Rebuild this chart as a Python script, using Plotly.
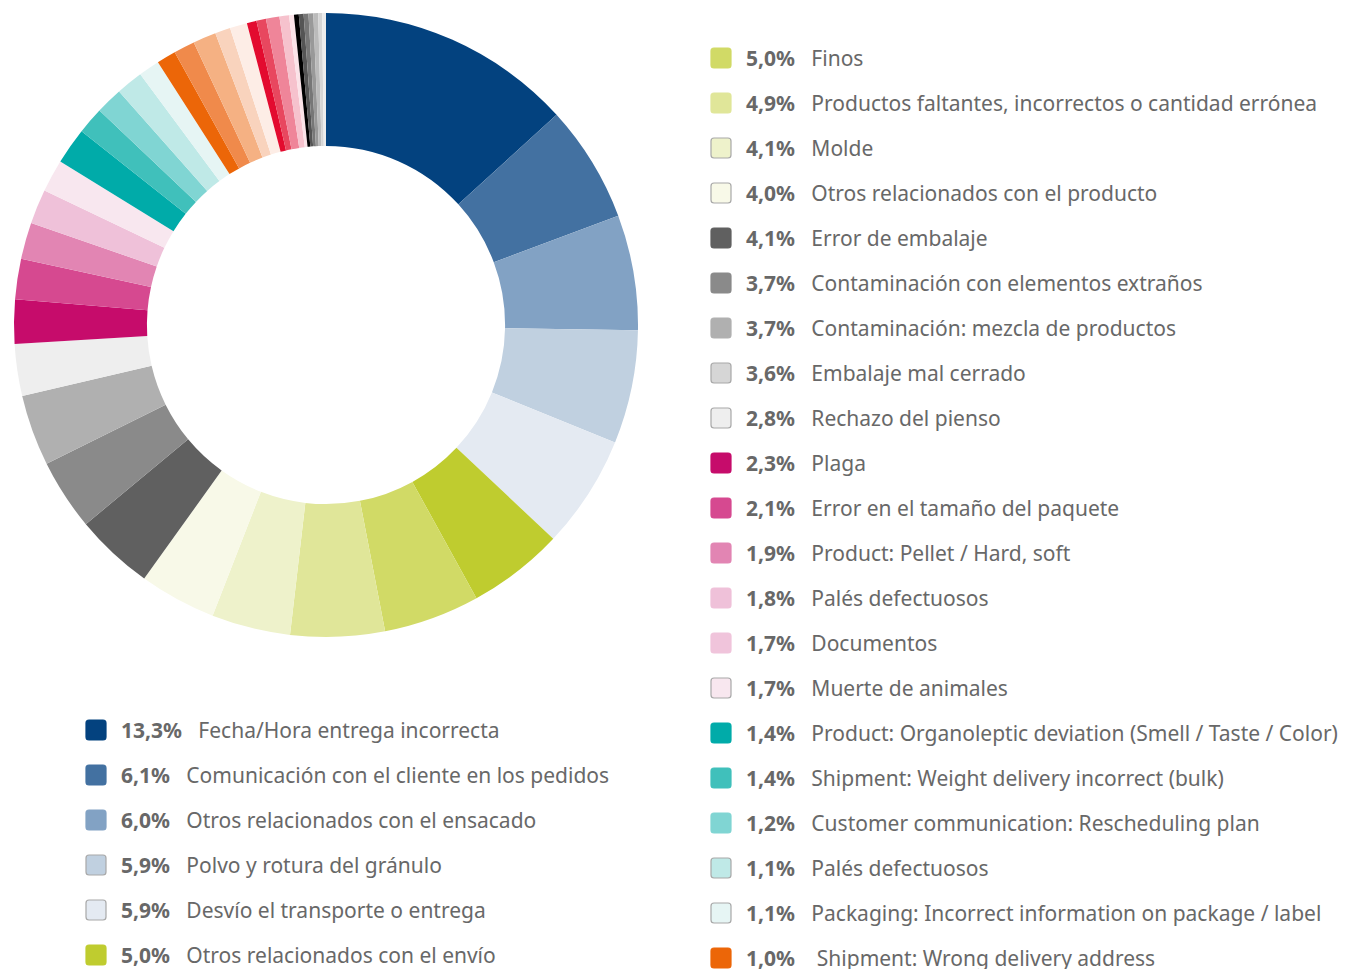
import plotly.graph_objects as go

W, H = 1346, 969

# ---- Legend data (as printed) ----
left_pcts = ["13,3%", "6,1%", "6,0%", "5,9%", "5,9%", "5,0%"]
left_labels = [
    "Fecha/Hora entrega incorrecta",
    "Comunicación con el cliente en los pedidos",
    "Otros relacionados con el ensacado",
    "Polvo y rotura del gránulo",
    "Desvío el transporte o entrega",
    "Otros relacionados con el envío",
]
left_colors = ["#03427F", "#4371A1", "#82A2C4", "#C0D0E0", "#E4EAF2", "#BFCC2F"]
left_edges = ["#03427F", "#4371A1", "#82A2C4", "#A8A8A8", "#A8A8A8", "#BFCC2F"]

right_pcts = ["5,0%", "4,9%", "4,1%", "4,0%", "4,1%", "3,7%", "3,7%", "3,6%", "2,8%",
              "2,3%", "2,1%", "1,9%", "1,8%", "1,7%", "1,7%", "1,4%", "1,4%", "1,2%",
              "1,1%", "1,1%", "1,0%"]
right_labels = [
    "Finos",
    "Productos faltantes, incorrectos o cantidad errónea",
    "Molde",
    "Otros relacionados con el producto",
    "Error de embalaje",
    "Contaminación con elementos extraños",
    "Contaminación: mezcla de productos",
    "Embalaje mal cerrado",
    "Rechazo del pienso",
    "Plaga",
    "Error en el tamaño del paquete",
    "Product: Pellet / Hard, soft",
    "Palés defectuosos",
    "Documentos",
    "Muerte de animales",
    "Product: Organoleptic deviation (Smell / Taste / Color)",
    "Shipment: Weight delivery incorrect (bulk)",
    "Customer communication: Rescheduling plan",
    "Palés defectuosos",
    "Packaging: Incorrect information on package / label",
    "&nbsp;Shipment: Wrong delivery address",
]
right_colors = ["#D1DA66", "#E0E699", "#EEF2CB", "#F8F9E8", "#606060", "#8A8A8A", "#B0B0B0",
                "#D6D6D6", "#EEEEEE", "#C60C6B", "#D64990", "#E285B3", "#EFC1D9", "#F0C4DB",
                "#F8E7EF", "#00ABA9", "#40C0BB", "#80D5D3", "#BFE9E7", "#E6F5F4", "#EC6608"]
right_edges = ["#D1DA66", "#E0E699", "#A8A8A8", "#A8A8A8", "#606060", "#8A8A8A", "#B0B0B0",
               "#A8A8A8", "#A8A8A8", "#C60C6B", "#D64990", "#E285B3", "#EFC1D9", "#F0C4DB",
               "#A8A8A8", "#00ABA9", "#40C0BB", "#80D5D3", "#A8A8A8", "#A8A8A8", "#EC6608"]

# ---- Donut slices (clockwise from 12 o'clock, values read from the ring) ----
donut_values = [13.3, 6.1, 6.0, 5.9, 5.9, 5.0, 5.0, 4.9, 4.1, 4.0,
                4.1, 3.7, 3.7, 2.7,
                2.3, 2.1, 1.9, 1.8, 1.7,
                1.9, 1.4, 1.4, 1.4, 1.1,
                1.0, 1.1, 1.2, 0.8, 0.9,
                0.5, 0.5, 0.7, 0.5, 0.25,
                0.25, 0.25, 0.25, 0.25, 0.25, 0.2, 0.2]
donut_colors = ["#03427F", "#4371A1", "#82A2C4", "#C0D0E0", "#E4EAF2", "#BFCC2F", "#D1DA66",
                "#E0E699", "#EEF2CB", "#F8F9E8",
                "#606060", "#8A8A8A", "#B0B0B0", "#EEEEEE",
                "#C60C6B", "#D64990", "#E285B3", "#EFC1D9", "#F8E7EF",
                "#00ABA9", "#40C0BB", "#80D5D3", "#BFE9E7", "#E6F5F4",
                "#EC6608", "#F08A4B", "#F5B183", "#F9D3BD", "#FDEDE6",
                "#E30B2F", "#E8475F", "#EF8599", "#F6C2CD", "#FBE3E8",
                "#000000", "#555555", "#777777", "#999999", "#BBBBBB", "#D5D5D5", "#ECECEC"]

# ---- Layout constants ----
CX, CY, R = 326, 325, 312
HOLE = 0.574
TEXT_COLOR = "#686868"
FONT = "'Noto Sans', 'Open Sans', sans-serif"
FONT_SIZE = 21
ROW = 45.0
SQ = 20

fig = go.Figure()
fig.add_trace(go.Pie(
    values=donut_values,
    marker=dict(colors=donut_colors, line=dict(width=0)),
    hole=HOLE,
    sort=False,
    direction="clockwise",
    rotation=0,
    textinfo="none",
    hoverinfo="percent",
    showlegend=False,
    domain=dict(x=[(CX - R) / W, (CX + R) / W], y=[1 - (CY + R) / H, 1 - (CY - R) / H]),
))

shapes = []
annotations = []


def add_legend(pcts, labels, colors, edges, x_sq, y0):
    for i, (p, lab, c, e) in enumerate(zip(pcts, labels, colors, edges)):
        yc = y0 + ROW * i
        h = SQ / 2
        r = 3
        path = (f"M {-h + r},{-h} L {h - r},{-h} Q {h},{-h} {h},{-h + r} "
                f"L {h},{h - r} Q {h},{h} {h - r},{h} L {-h + r},{h} "
                f"Q {-h},{h} {-h},{h - r} L {-h},{-h + r} Q {-h},{-h} {-h + r},{-h} Z")
        shapes.append(dict(
            type="path", xref="paper", yref="paper",
            xsizemode="pixel", ysizemode="pixel",
            xanchor=(x_sq + h) / W, yanchor=1 - yc / H,
            path=path, fillcolor=c, line=dict(color=e, width=1.2),
        ))
        annotations.append(dict(
            x=(x_sq + SQ + 13) / W, y=1 - yc / H, xref="paper", yref="paper",
            xanchor="left", yanchor="middle", showarrow=False,
            text=f"<b>{p}</b>&nbsp;&nbsp; {lab}",
            font=dict(family=FONT, size=FONT_SIZE, color=TEXT_COLOR),
        ))


add_legend(left_pcts, left_labels, left_colors, left_edges, 86, 730)
add_legend(right_pcts, right_labels, right_colors, right_edges, 711, 58)

fig.update_layout(
    width=W, height=H,
    margin=dict(l=0, r=0, t=0, b=0),
    paper_bgcolor="white",
    plot_bgcolor="white",
    shapes=shapes,
    annotations=annotations,
)

fig.write_html("out.html", config={"displayModeBar": False},
               post_script="document.body.style.margin='0px';")
